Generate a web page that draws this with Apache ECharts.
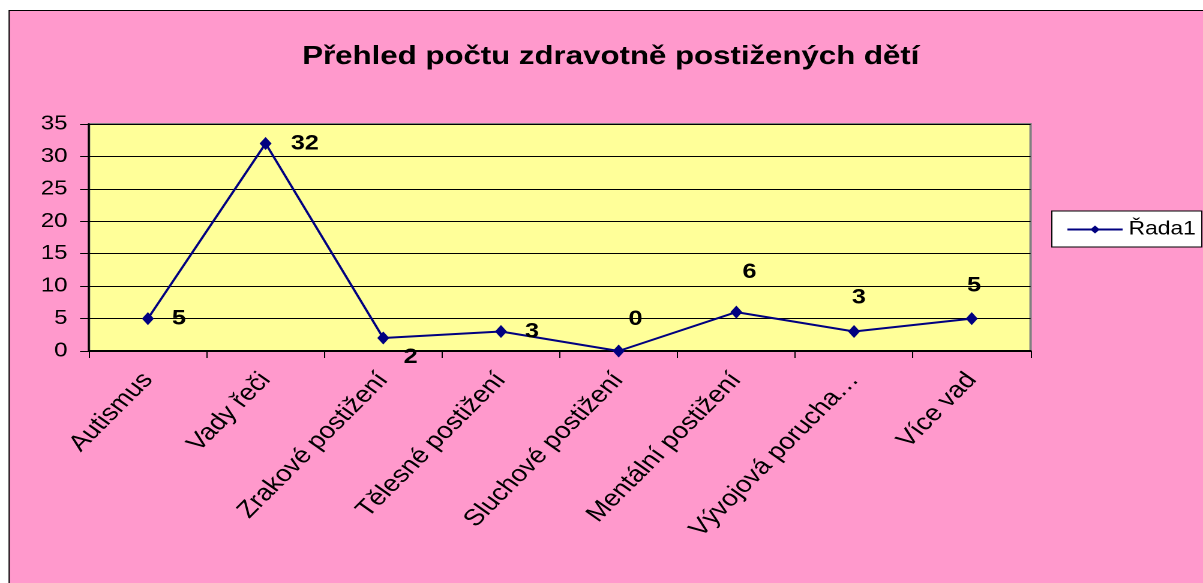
<!DOCTYPE html>
<html>
<head>
<meta charset="utf-8">
<title>Přehled počtu zdravotně postižených dětí</title>
<script src="https://cdn.jsdelivr.net/npm/echarts@6/dist/echarts.min.js"></script>
<style>
  html, body { margin: 0; padding: 0; background: #fff; overflow: hidden; }
  /* the original excel picture is stretched sideways, so draw narrower and stretch */
  #lineChart {
    width: 1002.5px;
    height: 583px;
    transform: scaleX(1.2);
    transform-origin: 0 0;
  }
</style>
</head>
<body>
<div id="lineChart"></div>
<script>
// data
const categories = [
  "Autismus",
  "Vady řeči",
  "Zrakové postižení",
  "Tělesné postižení",
  "Sluchové postižení",
  "Mentální postižení",
  "Vývojová porucha…",
  "Více vad",
];
const seriesName = "Řada1";
const values = [5, 32, 2, 3, 0, 6, 3, 5];
const yTicks = [0, 5, 10, 15, 20, 25, 30, 35];

// where each value label sits (excel put them all over the place)
const labelPlacement = [
  { position: "right", distance: 15, offset: [0, 0] },
  { position: "right", distance: 16, offset: [0, 0] },
  { position: "right", distance: 12, offset: [0, 19] },
  { position: "right", distance: 15, offset: [0, 0] },
  { position: "top", distance: 15, offset: [14, 0] },
  { position: "top", distance: 23, offset: [11, 0] },
  { position: "top", distance: 17, offset: [4, 0] },
  { position: "top", distance: 16, offset: [2, 0] },
];

const font = "Liberation Sans, Arial, sans-serif";

let chart = echarts.init(document.getElementById("lineChart"), null, {
  devicePixelRatio: 2,
});

let seriesData = values.map((v, i) => ({
  value: v,
  label: labelPlacement[i],
}));

let option = {
  backgroundColor: "#ffffff",
  animation: false,
  graphic: [
    {
      type: "rect",
      z: -10,
      silent: true,
      shape: { x: 7.6, y: 10.5, width: 1200, height: 700 },
      style: { fill: "#FF99CC", stroke: "#000000", lineWidth: 1 },
    },
  ],
  title: {
    text: "Přehled počtu zdravotně postižených dětí",
    left: 504,
    top: 39,
    textAlign: "center",
    textStyle: {
      fontFamily: font,
      fontSize: 26,
      fontWeight: "bold",
      color: "#000",
    },
  },
  legend: {
    left: 876.5,
    top: 211,
    orient: "vertical",
    backgroundColor: "#ffffff",
    borderColor: "#000000",
    borderWidth: 1,
    borderRadius: 0,
    padding: [9, 5, 8, 12],
    itemWidth: 46,
    itemHeight: 10,
    itemGap: 0,
    textStyle: { fontFamily: font, fontSize: 19, color: "#000" },
    data: [seriesName],
  },
  grid: {
    left: 74.2,
    right: 144.2,
    top: 124,
    bottom: 232,
    show: true,
    backgroundColor: "#FFFF99",
    borderColor: "#808080",
    borderWidth: 2,
  },
  xAxis: {
    type: "category",
    data: categories,
    boundaryGap: true,
    axisLine: { show: true, lineStyle: { color: "#000", width: 2 } },
    axisTick: { show: true, length: 7, lineStyle: { color: "#000", width: 1 } },
    axisLabel: {
      rotate: 50,
      interval: 0,
      margin: 25,
      fontFamily: font,
      fontSize: 23,
      color: "#000",
    },
  },
  yAxis: {
    type: "value",
    min: yTicks[0],
    max: yTicks[yTicks.length - 1],
    interval: 5,
    axisLine: { show: true, lineStyle: { color: "#000", width: 1.7 } },
    axisTick: { show: true, length: 7.5, lineStyle: { color: "#000", width: 1 } },
    axisLabel: {
      margin: 18,
      fontFamily: font,
      fontSize: 20,
      color: "#000",
    },
    splitLine: { show: true, lineStyle: { color: "#000", width: 1 } },
  },
  series: [
    {
      name: seriesName,
      type: "line",
      data: seriesData,
      symbol: "diamond",
      symbolSize: [10, 13],
      itemStyle: { color: "#000080" },
      lineStyle: { color: "#000080", width: 2 },
      label: {
        show: true,
        fontFamily: font,
        fontSize: 21,
        fontWeight: "bold",
        color: "#000",
      },
    },
  ],
};
chart.setOption(option);
</script>
</body>
</html>
